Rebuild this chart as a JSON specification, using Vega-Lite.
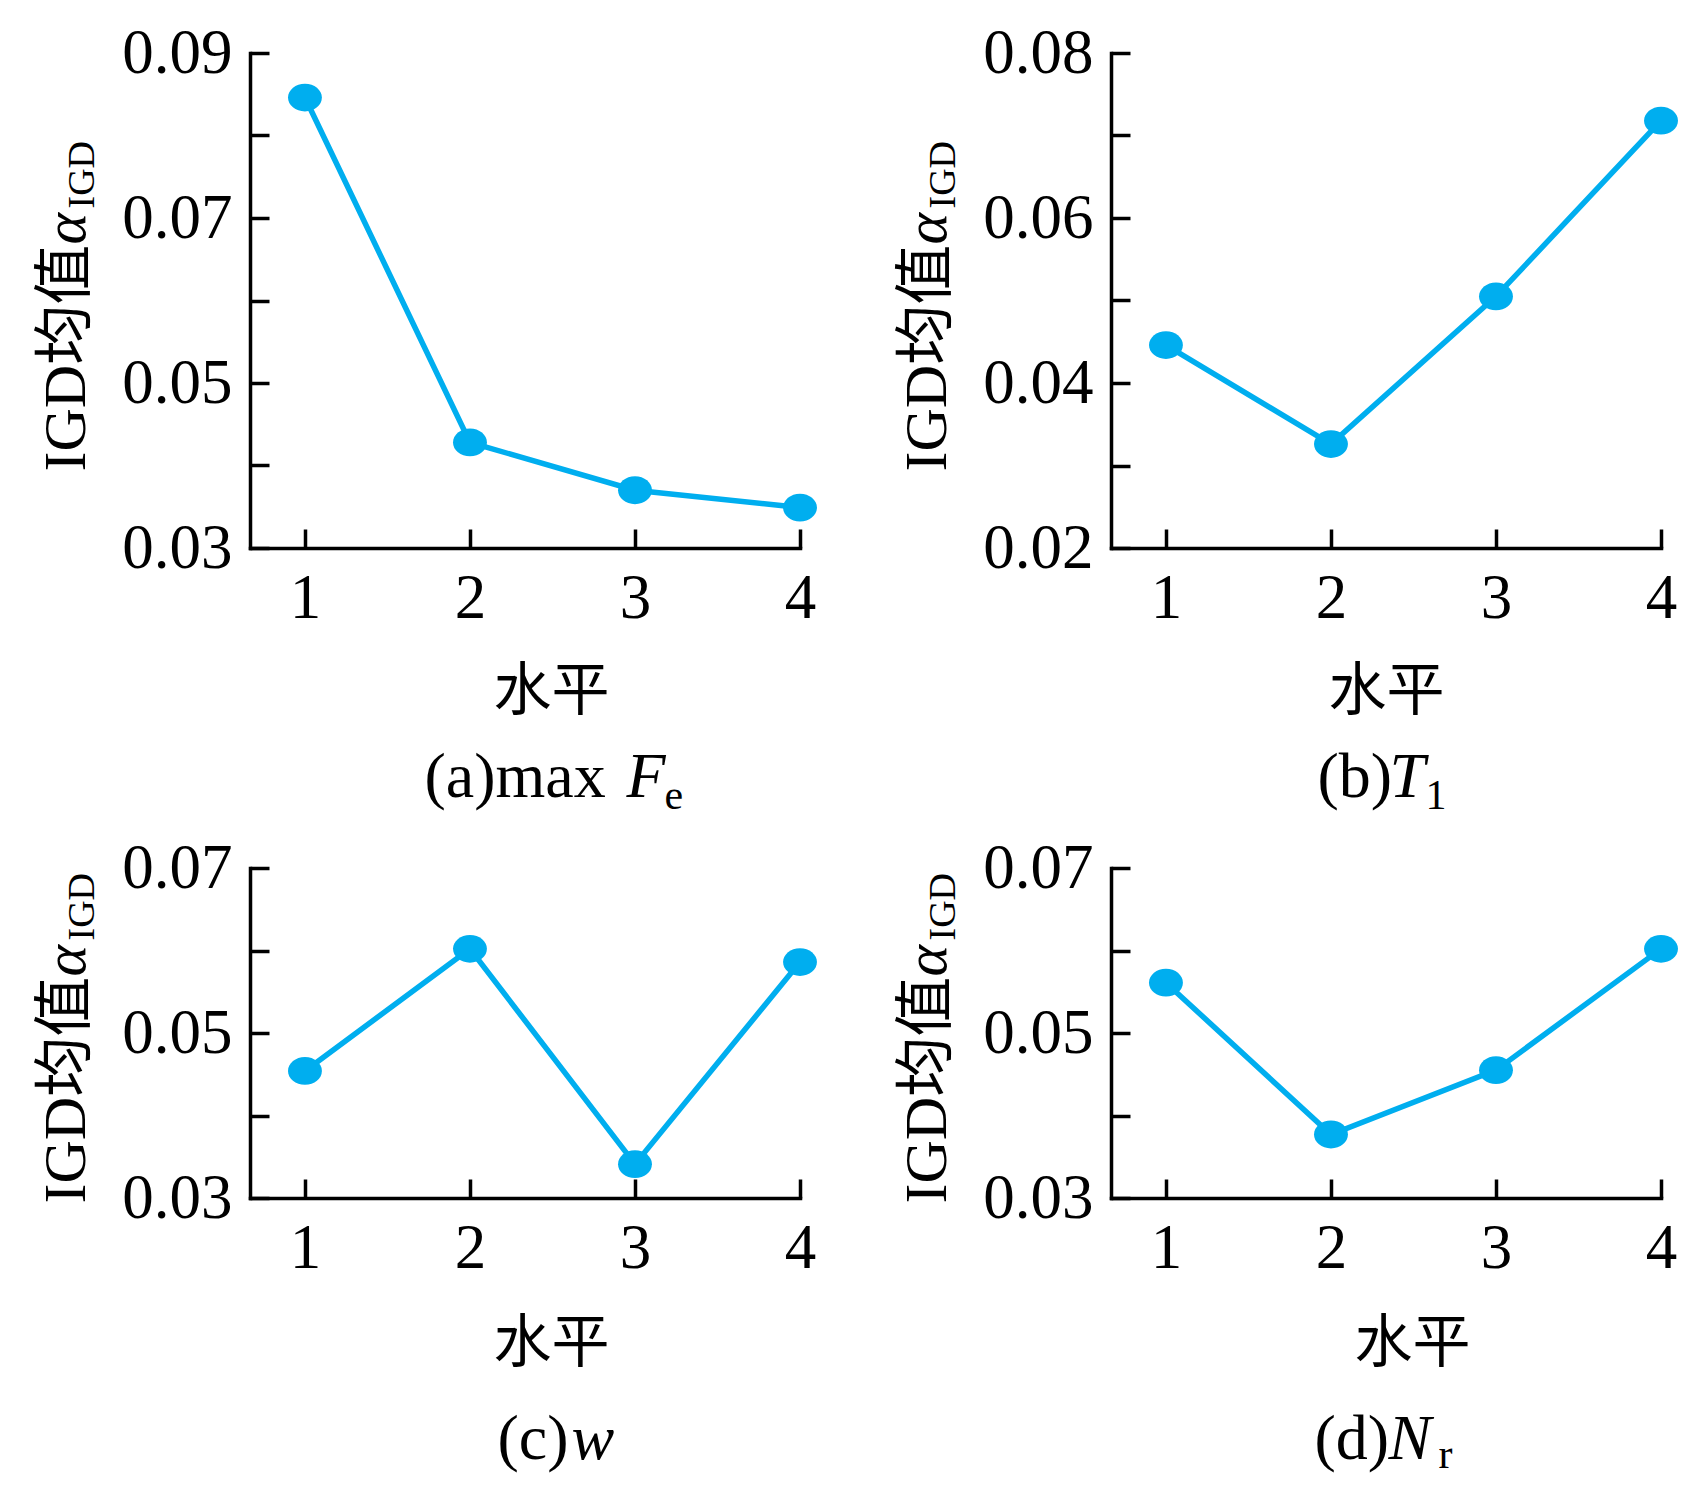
{
  "$schema": "https://vega.github.io/schema/vega-lite/v6.json",
  "background": "white",
  "padding": {"left": 36, "top": 22, "right": 10, "bottom": 10},
  "datasets": {
    "a": [
      {"level": 1, "igd": 0.0846},
      {"level": 2, "igd": 0.0428},
      {"level": 3, "igd": 0.0370},
      {"level": 4, "igd": 0.0349}
    ],
    "b": [
      {"level": 1, "igd": 0.0446},
      {"level": 2, "igd": 0.0326},
      {"level": 3, "igd": 0.0505},
      {"level": 4, "igd": 0.0718}
    ],
    "c": [
      {"level": 1, "igd": 0.0454},
      {"level": 2, "igd": 0.0602},
      {"level": 3, "igd": 0.0341},
      {"level": 4, "igd": 0.0586}
    ],
    "d": [
      {"level": 1, "igd": 0.0561},
      {"level": 2, "igd": 0.0377},
      {"level": 3, "igd": 0.0455},
      {"level": 4, "igd": 0.0602}
    ]
  },
  "columns": 2,
  "spacing": {"row": 320, "column": 311},
  "bounds": "flush",
  "concat": [
    {
      "width": 550, "height": 495,
      "data": {"name": "a"},
      "layer": [
        {
          "mark": {"type": "line", "color": "#00AEEF", "strokeWidth": 5.5},
          "encoding": {
            "x": {"field": "level", "type": "quantitative", "scale": {"domain": [0.667, 4], "nice": false, "zero": false},
              "axis": {"orient": "bottom", "values": [1, 2, 3, 4], "title": "水平", "titleFont": "Noto Sans CJK SC", "titleFontSize": 58, "titleAlign": "center", "titleX": 301, "titleY": 161}},
            "y": {"field": "igd", "type": "quantitative", "scale": {"domain": [0.03, 0.09], "nice": false, "zero": false},
              "axis": {"orient": "left", "values": [0.03, 0.04, 0.05, 0.06, 0.07, 0.08, 0.09], "format": ".2f", "labelExpr": "round(datum.value * 100) % 2 == 1 ? datum.label : ''", "title": "IGD均值", "titleAngle": 270, "titleX": -166, "titleY": 418}}
          }
        },
        {
          "mark": {"type": "point", "filled": true, "opacity": 1, "size": 1150, "color": "#00AEEF", "shape": "M-1,0A1,0.82,0,1,1,1,0A1,0.82,0,1,1,-1,0Z"},
          "encoding": {
            "x": {"field": "level", "type": "quantitative",
              "axis": {"orient": "bottom", "domain": false, "ticks": false, "labels": false, "title": "(a)max", "titleFontSize": 64, "titleX": 174, "titleY": 248}},
            "y": {"field": "igd", "type": "quantitative",
              "axis": {"orient": "left", "domain": false, "ticks": false, "labels": false, "title": "IGD", "titleFontSize": 38, "titleAngle": 270, "titleX": -157, "titleY": 155}}
          }
        },
        {
          "mark": {"type": "point", "opacity": 0},
          "encoding": {
            "x": {"field": "level", "type": "quantitative",
              "axis": {"orient": "bottom", "domain": false, "ticks": false, "labels": false, "title": "F", "titleFontStyle": "italic", "titleFontSize": 64, "titleX": 376, "titleY": 248}},
            "y": {"field": "igd", "type": "quantitative",
              "axis": {"orient": "left", "domain": false, "ticks": false, "labels": false, "title": "e", "titleFontSize": 42, "titleAngle": 0, "titleX": 414, "titleY": 755}}
          }
        },
        {
          "mark": {"type": "point", "opacity": 0},
          "encoding": {
            "x": {"field": "level", "type": "quantitative",
              "axis": {"orient": "bottom", "domain": false, "ticks": false, "labels": false, "title": null}},
            "y": {"field": "igd", "type": "quantitative",
              "axis": {"orient": "left", "domain": false, "ticks": false, "labels": false, "title": "α", "titleFontStyle": "italic", "titleAngle": 270, "titleX": -166, "titleY": 191}}
          }
        }
      ],
      "resolve": {"axis": {"x": "independent", "y": "independent"}}
    },
    {
      "width": 550, "height": 495,
      "data": {"name": "b"},
      "layer": [
        {
          "mark": {"type": "line", "color": "#00AEEF", "strokeWidth": 5.5},
          "encoding": {
            "x": {"field": "level", "type": "quantitative", "scale": {"domain": [0.667, 4], "nice": false, "zero": false},
              "axis": {"orient": "bottom", "values": [1, 2, 3, 4], "title": "水平", "titleFont": "Noto Sans CJK SC", "titleFontSize": 58, "titleAlign": "center", "titleX": 275, "titleY": 161}},
            "y": {"field": "igd", "type": "quantitative", "scale": {"domain": [0.02, 0.08], "nice": false, "zero": false},
              "axis": {"orient": "left", "values": [0.02, 0.03, 0.04, 0.05, 0.06, 0.07, 0.08], "format": ".2f", "labelExpr": "round(datum.value * 100) % 2 == 0 ? datum.label : ''", "title": "IGD均值", "titleAngle": 270, "titleX": -166, "titleY": 418}}
          }
        },
        {
          "mark": {"type": "point", "filled": true, "opacity": 1, "size": 1150, "color": "#00AEEF", "shape": "M-1,0A1,0.82,0,1,1,1,0A1,0.82,0,1,1,-1,0Z"},
          "encoding": {
            "x": {"field": "level", "type": "quantitative",
              "axis": {"orient": "bottom", "domain": false, "ticks": false, "labels": false, "title": "(b)", "titleFontSize": 64, "titleX": 206, "titleY": 248}},
            "y": {"field": "igd", "type": "quantitative",
              "axis": {"orient": "left", "domain": false, "ticks": false, "labels": false, "title": "IGD", "titleFontSize": 38, "titleAngle": 270, "titleX": -157, "titleY": 155}}
          }
        },
        {
          "mark": {"type": "point", "opacity": 0},
          "encoding": {
            "x": {"field": "level", "type": "quantitative",
              "axis": {"orient": "bottom", "domain": false, "ticks": false, "labels": false, "title": "T", "titleFontStyle": "italic", "titleFontSize": 64, "titleX": 278, "titleY": 248}},
            "y": {"field": "igd", "type": "quantitative",
              "axis": {"orient": "left", "domain": false, "ticks": false, "labels": false, "title": "1", "titleFontSize": 42, "titleAngle": 0, "titleX": 314, "titleY": 755}}
          }
        },
        {
          "mark": {"type": "point", "opacity": 0},
          "encoding": {
            "x": {"field": "level", "type": "quantitative",
              "axis": {"orient": "bottom", "domain": false, "ticks": false, "labels": false, "title": null}},
            "y": {"field": "igd", "type": "quantitative",
              "axis": {"orient": "left", "domain": false, "ticks": false, "labels": false, "title": "α", "titleFontStyle": "italic", "titleAngle": 270, "titleX": -166, "titleY": 191}}
          }
        }
      ],
      "resolve": {"axis": {"x": "independent", "y": "independent"}}
    },
    {
      "width": 550, "height": 330,
      "data": {"name": "c"},
      "layer": [
        {
          "mark": {"type": "line", "color": "#00AEEF", "strokeWidth": 5.5},
          "encoding": {
            "x": {"field": "level", "type": "quantitative", "scale": {"domain": [0.667, 4], "nice": false, "zero": false},
              "axis": {"orient": "bottom", "values": [1, 2, 3, 4], "title": "水平", "titleFont": "Noto Sans CJK SC", "titleFontSize": 58, "titleAlign": "center", "titleX": 301, "titleY": 163}},
            "y": {"field": "igd", "type": "quantitative", "scale": {"domain": [0.03, 0.07], "nice": false, "zero": false},
              "axis": {"orient": "left", "values": [0.03, 0.04, 0.05, 0.06, 0.07], "format": ".2f", "labelExpr": "round(datum.value * 100) % 2 == 1 ? datum.label : ''", "title": "IGD均值", "titleAngle": 270, "titleX": -166, "titleY": 335}}
          }
        },
        {
          "mark": {"type": "point", "filled": true, "opacity": 1, "size": 1150, "color": "#00AEEF", "shape": "M-1,0A1,0.82,0,1,1,1,0A1,0.82,0,1,1,-1,0Z"},
          "encoding": {
            "x": {"field": "level", "type": "quantitative",
              "axis": {"orient": "bottom", "domain": false, "ticks": false, "labels": false, "title": "(c)", "titleFontSize": 64, "titleX": 247, "titleY": 260}},
            "y": {"field": "igd", "type": "quantitative",
              "axis": {"orient": "left", "domain": false, "ticks": false, "labels": false, "title": "IGD", "titleFontSize": 38, "titleAngle": 270, "titleX": -157, "titleY": 72}}
          }
        },
        {
          "mark": {"type": "point", "opacity": 0},
          "encoding": {
            "x": {"field": "level", "type": "quantitative",
              "axis": {"orient": "bottom", "domain": false, "ticks": false, "labels": false, "title": "w", "titleFontStyle": "italic", "titleFontSize": 64, "titleX": 321, "titleY": 260}},
            "y": {"field": "igd", "type": "quantitative",
              "axis": {"orient": "left", "domain": false, "ticks": false, "labels": false, "title": "α", "titleFontStyle": "italic", "titleAngle": 270, "titleX": -166, "titleY": 108}}
          }
        }
      ],
      "resolve": {"axis": {"x": "independent", "y": "independent"}}
    },
    {
      "width": 550, "height": 330,
      "data": {"name": "d"},
      "layer": [
        {
          "mark": {"type": "line", "color": "#00AEEF", "strokeWidth": 5.5},
          "encoding": {
            "x": {"field": "level", "type": "quantitative", "scale": {"domain": [0.667, 4], "nice": false, "zero": false},
              "axis": {"orient": "bottom", "values": [1, 2, 3, 4], "title": "水平", "titleFont": "Noto Sans CJK SC", "titleFontSize": 58, "titleAlign": "center", "titleX": 301, "titleY": 163}},
            "y": {"field": "igd", "type": "quantitative", "scale": {"domain": [0.03, 0.07], "nice": false, "zero": false},
              "axis": {"orient": "left", "values": [0.03, 0.04, 0.05, 0.06, 0.07], "format": ".2f", "labelExpr": "round(datum.value * 100) % 2 == 1 ? datum.label : ''", "title": "IGD均值", "titleAngle": 270, "titleX": -166, "titleY": 335}}
          }
        },
        {
          "mark": {"type": "point", "filled": true, "opacity": 1, "size": 1150, "color": "#00AEEF", "shape": "M-1,0A1,0.82,0,1,1,1,0A1,0.82,0,1,1,-1,0Z"},
          "encoding": {
            "x": {"field": "level", "type": "quantitative",
              "axis": {"orient": "bottom", "domain": false, "ticks": false, "labels": false, "title": "(d)", "titleFontSize": 64, "titleX": 203, "titleY": 260}},
            "y": {"field": "igd", "type": "quantitative",
              "axis": {"orient": "left", "domain": false, "ticks": false, "labels": false, "title": "IGD", "titleFontSize": 38, "titleAngle": 270, "titleX": -157, "titleY": 72}}
          }
        },
        {
          "mark": {"type": "point", "opacity": 0},
          "encoding": {
            "x": {"field": "level", "type": "quantitative",
              "axis": {"orient": "bottom", "domain": false, "ticks": false, "labels": false, "title": "N", "titleFontStyle": "italic", "titleFontSize": 64, "titleX": 277, "titleY": 260}},
            "y": {"field": "igd", "type": "quantitative",
              "axis": {"orient": "left", "domain": false, "ticks": false, "labels": false, "title": "r", "titleFontSize": 42, "titleAngle": 0, "titleX": 327, "titleY": 599}}
          }
        },
        {
          "mark": {"type": "point", "opacity": 0},
          "encoding": {
            "x": {"field": "level", "type": "quantitative",
              "axis": {"orient": "bottom", "domain": false, "ticks": false, "labels": false, "title": null}},
            "y": {"field": "igd", "type": "quantitative",
              "axis": {"orient": "left", "domain": false, "ticks": false, "labels": false, "title": "α", "titleFontStyle": "italic", "titleAngle": 270, "titleX": -166, "titleY": 108}}
          }
        }
      ],
      "resolve": {"axis": {"x": "independent", "y": "independent"}}
    }
  ],
  "config": {
    "font": "Liberation Serif",
    "view": {"stroke": null},
    "axis": {
      "grid": false,
      "domainColor": "black", "domainWidth": 3.5, "domainCap": "square",
      "tickColor": "black", "tickWidth": 3.5, "tickSize": -19,
      "labelFont": "Liberation Serif", "labelFontSize": 63, "labelColor": "black",
      "labelOverlap": false, "labelFlush": false,
      "titleFont": "Liberation Serif, Noto Sans CJK SC", "titleFontSize": 60, "titleFontWeight": "normal",
      "titleColor": "black", "titleBaseline": "alphabetic", "titleAlign": "left"
    },
    "axisX": {"labelPadding": 38, "labelAngle": 0},
    "axisY": {"labelPadding": 37}
  }
}
